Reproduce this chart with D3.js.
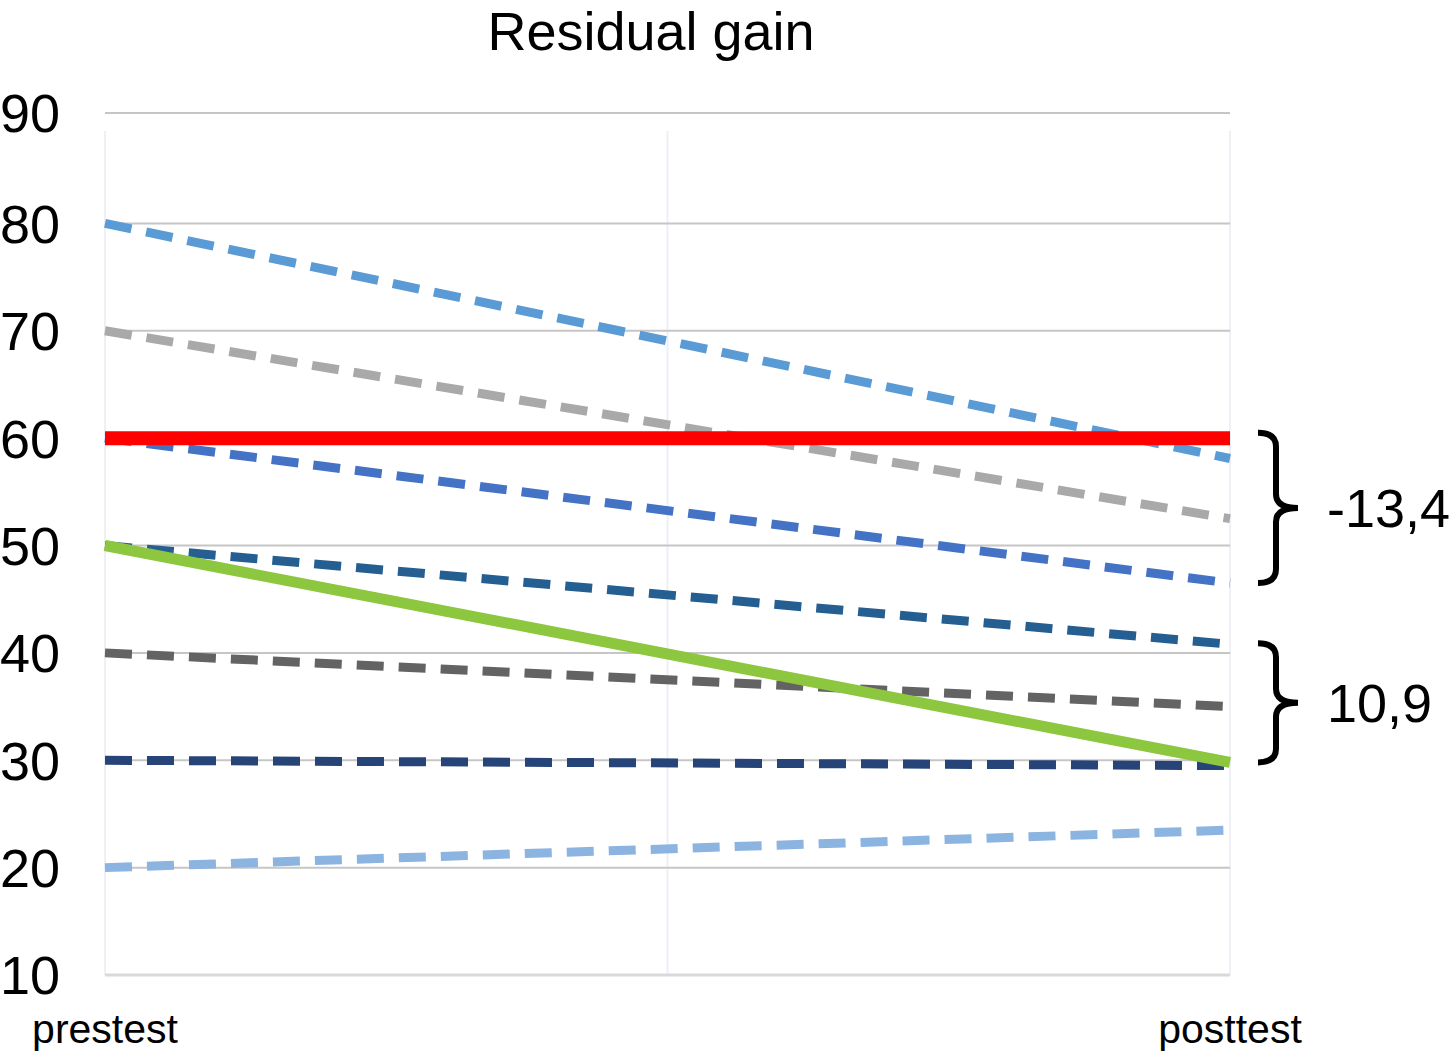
<!DOCTYPE html>
<html>
<head>
<meta charset="utf-8">
<script src="https://cdn.jsdelivr.net/npm/d3@7"></script>
<style>
  html, body { margin: 0; padding: 0; background: #fff; }
  svg { display: block; font-family: "Liberation Sans", Arial, Helvetica, sans-serif; }
</style>
</head>
<body>
<svg id="chart" width="1455" height="1054"></svg>
<script>
// categories on the x axis
const categories = ["prestest", "posttest"];
const yTicks = [10, 20, 30, 40, 50, 60, 70, 80, 90];

// dashed series (prestest, posttest)
const dashedNames = ["s1", "s2", "s3", "s4", "s5", "s6", "s7"];
const dashedValues = [
  [80, 58.1],
  [70, 52.5],
  [60, 46.5],
  [50, 40.8],
  [40, 35.0],
  [30, 29.5],
  [20, 23.5]
];
const dashedColors = ["#5b9bd5", "#a9a9a9", "#4472c4", "#255e91", "#636363", "#264478", "#8cb4e0"];

// highlighted solid series
const solidNames = ["green", "red"];
const solidValues = [
  [50, 29.8],
  [60, 60]
];
const solidColors = ["#8dc63f", "#ff0000"];

// braces on the right: [from, to] and label
const braceRanges = [[60.5, 46.5], [40.9, 29.8]];
const braceLabels = ["-13,4", "10,9"];

const svg = d3.select("#chart");
const margin = { top: 116, right: 225, bottom: 79, left: 105 };
const width = 1455, height = 1054;

const x = d3.scalePoint()
  .domain(categories)
  .range([margin.left, width - margin.right]);

const y = d3.scaleLinear()
  .domain([10, 90])
  .range([height - margin.bottom, margin.top]);

// vertical faint gridlines
const xMid = (x(categories[0]) + x(categories[1])) / 2;
svg.append("g").selectAll("line")
  .data([x(categories[0]), xMid, x(categories[1])])
  .enter()
  .append("line")
  .attr("x1", d => d).attr("x2", d => d)
  .attr("y1", y(90) + 15).attr("y2", y(10))
  .attr("stroke", "#eef0f6")
  .attr("stroke-width", 2);

// horizontal gridlines (top one sits a bit higher in the original)
svg.append("g").selectAll("line")
  .data(yTicks)
  .enter()
  .append("line")
  .attr("x1", x(categories[0])).attr("x2", x(categories[1]))
  .attr("y1", d => y(d) - (d === 90 ? 3 : 0)).attr("y2", d => y(d) - (d === 90 ? 3 : 0))
  .attr("stroke", d => d === 10 ? "#d9d9d9" : "#c6c6c6")
  .attr("stroke-width", d => d === 10 ? 3 : 2);

// y tick labels
svg.append("g").selectAll("text")
  .data(yTicks)
  .enter()
  .append("text")
  .attr("x", 0)
  .attr("y", d => y(d) - (d === 90 ? 3 : 0))
  .attr("dy", "0.36em")
  .attr("font-size", 54)
  .attr("fill", "#000")
  .text(d => d);

// category labels
svg.append("g").selectAll("text")
  .data(categories)
  .enter()
  .append("text")
  .attr("x", d => x(d))
  .attr("y", 1043)
  .attr("text-anchor", "middle")
  .attr("font-size", 41)
  .attr("fill", "#000")
  .text(d => d);

// title
svg.append("text")
  .attr("x", 651)
  .attr("y", 50)
  .attr("text-anchor", "middle")
  .attr("font-size", 54)
  .attr("fill", "#000")
  .text("Residual gain");

const line = d3.line()
  .x((d, i) => x(categories[i]))
  .y(d => y(d));

// dashed series
svg.append("g").selectAll("path")
  .data(dashedValues)
  .enter()
  .append("path")
  .attr("d", d => line(d))
  .attr("fill", "none")
  .attr("stroke", (d, i) => dashedColors[i])
  .attr("stroke-width", 9)
  .attr("stroke-dasharray", "27,15");

// solid series on top
svg.append("g").selectAll("path")
  .data(solidValues)
  .enter()
  .append("path")
  .attr("d", d => line(d))
  .attr("fill", "none")
  .attr("stroke", (d, i) => solidColors[i])
  .attr("stroke-width", (d, i) => i === 1 ? 14 : 11);

// curly braces
function bracePath(x0, y0, y1, w) {
  const xs = x0 + w * 0.45, xt = x0 + w, ym = (y0 + y1) / 2;
  const r = 14;
  return `M${x0},${y0} Q${xs},${y0} ${xs},${y0 + r} L${xs},${ym - r} Q${xs},${ym} ${xt},${ym}`
    + ` Q${xs},${ym} ${xs},${ym + r} L${xs},${y1 - r} Q${xs},${y1} ${x0},${y1}`;
}

const braces = svg.append("g").selectAll("g")
  .data(braceRanges)
  .enter()
  .append("g");

braces.append("path")
  .attr("d", d => bracePath(1258, y(d[0]), y(d[1]), 40))
  .attr("fill", "none")
  .attr("stroke", "#000")
  .attr("stroke-width", 6);

braces.append("text")
  .attr("x", 1327)
  .attr("y", d => (y(d[0]) + y(d[1])) / 2)
  .attr("dy", "0.36em")
  .attr("font-size", 54)
  .attr("fill", "#000")
  .text((d, i) => braceLabels[i]);
</script>
</body>
</html>
